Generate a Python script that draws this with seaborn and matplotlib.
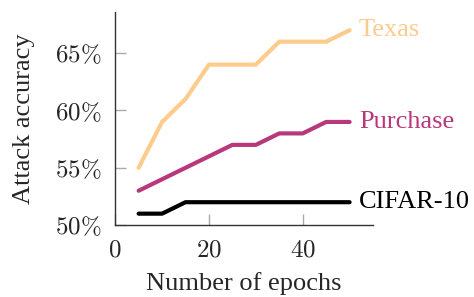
import pandas as pd
import seaborn as sns
import matplotlib.pyplot as plt

epochs = [5, 10, 15, 20, 25, 30, 35, 40, 45, 50]
texas = [55, 59, 61, 64, 64, 64, 66, 66, 66, 67]
purchase = [53, 54, 55, 56, 57, 57, 58, 58, 59, 59]
cifar10 = [51, 51, 52, 52, 52, 52, 52, 52, 52, 52]
datasets = ['Texas', 'Purchase', 'CIFAR-10']
colors = ['#fdcb8c', '#b8387c', '#000000']
y_ticks = [50, 55, 60, 65]
x_ticks = [0, 20, 40]

df = pd.DataFrame({
    'epoch': epochs * 3,
    'acc': texas + purchase + cifar10,
    'dataset': ['Texas'] * 10 + ['Purchase'] * 10 + ['CIFAR-10'] * 10,
})

sns.set_style('ticks')
plt.rcParams['font.family'] = ['Liberation Serif', 'DejaVu Serif']
plt.rcParams['mathtext.fontset'] = 'cm'

fig = plt.figure(figsize=(4.74, 2.97), dpi=100)
ax = fig.add_axes([0.243, 0.242, 0.544, 0.718])
sns.lineplot(data=df, x='epoch', y='acc', hue='dataset', hue_order=datasets,
             palette=colors, linewidth=3, legend=False, ax=ax)

# series names at the end of each line
for name, vals, c in zip(datasets, [texas, purchase, cifar10], colors):
    ax.text(epochs[-1] + 2, vals[-1], name, color=c, fontsize=19,
            va='center', ha='left')

ax.set_xlim(0, 55)
ax.set_ylim(50, 68.6)
ax.set_xticks(x_ticks)
ax.set_xticklabels(['$%d$' % t for t in x_ticks])
ax.set_yticks(y_ticks)
ax.set_yticklabels(['$%d\\%%$' % t for t in y_ticks])
ax.tick_params(direction='in', length=8, width=1, color='#aaaaaa',
               labelsize=18, pad=10)
for s in ['top', 'right']:
    ax.spines[s].set_visible(False)
for s in ['left', 'bottom']:
    ax.spines[s].set_color('#333333')
    ax.spines[s].set_linewidth(1)

ax.set_xlabel('Number of epochs', fontsize=19, labelpad=8)
ax.set_ylabel('Attack accuracy', fontsize=19, labelpad=14)

fig.savefig('out.png', dpi=100)
